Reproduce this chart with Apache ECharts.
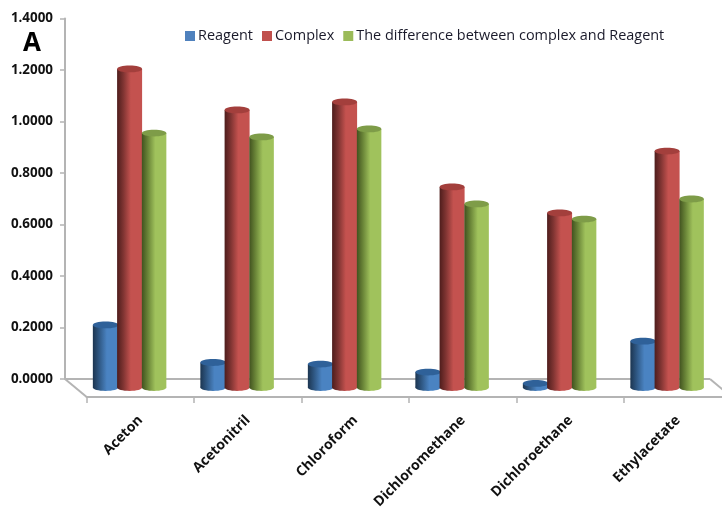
<!DOCTYPE html>
<html><head><meta charset="utf-8">
<style>html,body{margin:0;padding:0;background:#fff}#c{width:722px;height:513px;overflow:hidden}</style>
<script src="https://cdn.jsdelivr.net/npm/echarts@6/dist/echarts.min.js"></script>
</head><body><div id="c"></div>
<script>
const categories = ['Aceton','Acetonitril','Chloroform','Dichloromethane','Dichloroethane','Ethylacetate'];
const reagent = [0.243,0.097,0.091,0.060,0.016,0.180];
const complex = [1.237,1.078,1.109,0.779,0.678,0.918];
const difference = [0.988,0.973,1.004,0.713,0.654,0.732];
const names = ['Reagent','Complex','The difference between complex and Reagent'];
const FONT = '"Open Sans","Noto Sans",sans-serif';
const DX = 21.7, DY = 18;

function cyl(offset, width, dark, mid, base, light, top){
  return function(params, api){
    const p = api.coord([api.value(0), api.value(1)]);
    const b = api.coord([api.value(0), 0]);
    const cx = p[0] - DX/2 + offset, ty = p[1] + 8.5, by = b[1] + 8.5, rx = width/2, ry = 3.4;
    const fill = {type:'linear',x:0,y:0,x2:1,y2:0,colorStops:[
      {offset:0,color:dark},{offset:0.25,color:mid},{offset:0.55,color:base},{offset:0.9,color:base},{offset:1,color:light}]};
    return {type:'group',children:[
      {type:'ellipse',shape:{cx:cx,cy:by,rx:rx,ry:ry},style:{fill:fill}},
      {type:'rect',shape:{x:cx-rx,y:Math.min(ty,by),width:width,height:Math.abs(by-ty)},style:{fill:fill}},
      {type:'ellipse',shape:{cx:cx,cy:ty,rx:rx,ry:ry},style:{fill:top}}
    ]};
  };
}
function floor(params, api){
  const cs = params.coordSys, y0 = cs.y + cs.height, xl = cs.x, xr = cs.x + cs.width;
  const st = {stroke:'#b4b4b4',lineWidth:2,fill:null};
  return {type:'group',children:[
    {type:'line',shape:{x1:xl-DX,y1:y0,x2:xr-DX,y2:y0},style:st},
    {type:'line',shape:{x1:xl-DX,y1:y0,x2:xl,y2:y0+DY},style:st},
    {type:'line',shape:{x1:xr-DX,y1:y0,x2:xr,y2:y0+DY},style:st}
  ]};
}
const rows = v => v.map((d,i)=>[categories[i],d]);
const chart = echarts.init(document.getElementById('c'));
chart.setOption({
  animation:false,
  backgroundColor:'#fff',
  title:{text:'A',left:18,top:26,textStyle:{fontFamily:FONT,fontSize:26,fontWeight:'bold',color:'#000'}},
  legend:{left:180,top:24,itemWidth:10,itemHeight:10,itemGap:9,icon:'rect',data:names,
    textStyle:{fontFamily:FONT,fontSize:14.45,color:'#1a1a2a',padding:[0,0,0,-2]}},
  grid:{left:86.7,width:645,top:18.5,height:360.5,containLabel:false,outerBoundsMode:'none'},
  xAxis:{type:'category',data:categories,offset:18,
    axisLine:{onZero:false,lineStyle:{color:'#b4b4b4',width:2}},
    axisTick:{show:true,length:6,lineStyle:{color:'#b4b4b4',width:1.5}},
    axisLabel:{interval:0,rotate:45,margin:21,fontFamily:FONT,fontSize:14,fontWeight:'bold',color:'#111'}},
  yAxis:{type:'value',min:0,max:1.4,interval:0.2,offset:21.7,
    axisLine:{show:true,lineStyle:{color:'#b4b4b4',width:2}},
    axisTick:{show:true,length:5,lineStyle:{color:'#b4b4b4',width:1.5}},
    splitLine:{show:false},
    axisLabel:{margin:12,fontFamily:FONT,fontSize:13.4,fontWeight:'bold',color:'#111',padding:[6,0,0,0],formatter:v=>v.toFixed(4)}},
  series:[
    {type:'custom',clip:false,z:1,silent:true,data:[[categories[0],0]],encode:{x:0,y:1},renderItem:floor},
    {type:'custom',name:names[0],clip:false,z:2,itemStyle:{color:'#4f81bd'},data:rows(reagent),encode:{x:0,y:1},
      renderItem:cyl(-24,25.5,'#1c3550','#2f5884','#4a83c2','#4a7fb8','#2f6199')},
    {type:'custom',name:names[1],clip:false,z:3,itemStyle:{color:'#c0504d'},data:rows(complex),encode:{x:0,y:1},
      renderItem:cyl(0,25,'#4e1d1c','#7f3432','#c4524f','#c4524f','#a33f3c')},
    {type:'custom',name:names[2],clip:false,z:4,itemStyle:{color:'#9bbb59'},data:rows(difference),encode:{x:0,y:1},
      renderItem:cyl(24.5,24.5,'#41521f','#6a8538','#a0c25c','#a0c25c','#7e9c48')}
  ]
});
</script></body></html>
